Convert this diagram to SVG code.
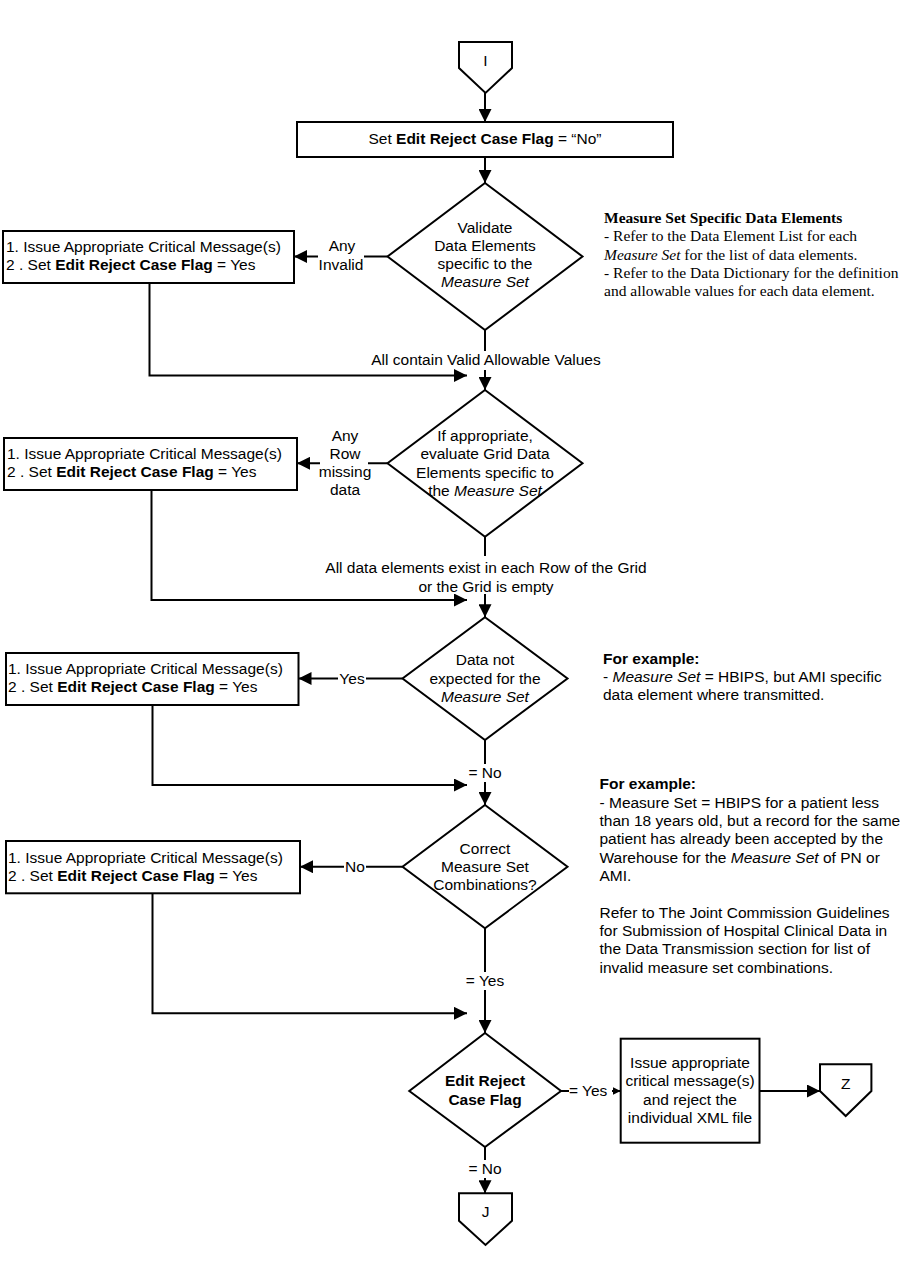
<svg xmlns="http://www.w3.org/2000/svg" width="900" height="1286" viewBox="0 0 900 1286">
<style>
.shape{fill:#fff;stroke:#000;stroke-width:2}
.ln{fill:none;stroke:#000;stroke-width:2}
.t{font-family:"Liberation Sans",Arial,sans-serif;font-size:15.5px;fill:#000}
.c{text-anchor:middle}
.b{font-weight:bold}
.i{font-style:italic}
.s{font-family:"Liberation Serif","Times New Roman",serif;font-size:15.5px;fill:#000}
.bg{fill:#fff;stroke:none}
</style>
<defs>
<marker id="ah" markerUnits="userSpaceOnUse" markerWidth="13" markerHeight="13" refX="13" refY="6.5" orient="auto">
<path d="M0,0 L13,6.5 L0,13 z" fill="#000"/>
</marker>
<marker id="ahs" markerUnits="userSpaceOnUse" markerWidth="8" markerHeight="8" refX="8" refY="4" orient="auto">
<path d="M0,0 L8,4 L0,8 z" fill="#000"/>
</marker>
</defs>
<rect width="900" height="1286" fill="#fff"/>

<g id="connectors">
<line class="ln" x1="485" y1="93" x2="485" y2="122" marker-end="url(#ah)"/>
<line class="ln" x1="485" y1="157" x2="485" y2="183" marker-end="url(#ah)"/>
<line class="ln" x1="387.5" y1="256.5" x2="294" y2="256.5" marker-end="url(#ah)"/>
<rect class="bg" x="318" y="238" width="46" height="36"/>
<text class="t c" x="342" y="251">Any</text>
<text class="t c" x="341" y="270">Invalid</text>
<line class="ln" x1="485" y1="330" x2="485" y2="390" marker-end="url(#ah)"/>
<rect class="bg" x="368" y="351" width="238" height="19"/>
<text class="t c" x="486" y="365">All contain Valid Allowable Values</text>
<polyline class="ln" points="149.5,283 149.5,375.5 467,375.5" marker-end="url(#ah)"/>

<line class="ln" x1="387.5" y1="463.3" x2="297" y2="463.3" marker-end="url(#ah)"/>
<rect class="bg" x="320" y="428" width="48" height="72"/>
<text class="t c" x="345" y="441">Any</text>
<text class="t c" x="345" y="459">Row</text>
<text class="t c" x="345" y="477">missing</text>
<text class="t c" x="345" y="495">data</text>
<line class="ln" x1="485" y1="536.7" x2="485" y2="617.3" marker-end="url(#ah)"/>
<rect class="bg" x="322" y="556" width="328" height="38"/>
<text class="t c" x="486" y="573">All data elements exist in each Row of the Grid</text>
<text class="t c" x="486" y="592">or the Grid is empty</text>
<polyline class="ln" points="151.5,490 151.5,600 467,600" marker-end="url(#ah)"/>

<line class="ln" x1="402.5" y1="678.5" x2="298.5" y2="678.5" marker-end="url(#ah)"/>
<rect class="bg" x="338" y="668" width="28" height="20"/>
<text class="t c" x="352" y="684">Yes</text>
<line class="ln" x1="485" y1="740" x2="485" y2="805" marker-end="url(#ah)"/>
<rect class="bg" x="465" y="764" width="40" height="18"/>
<text class="t c" x="485" y="778">= No</text>
<polyline class="ln" points="152.5,705 152.5,785 467,785" marker-end="url(#ah)"/>

<line class="ln" x1="402.5" y1="866.7" x2="300" y2="866.7" marker-end="url(#ah)"/>
<rect class="bg" x="344" y="856" width="22" height="20"/>
<text class="t c" x="355" y="872">No</text>
<line class="ln" x1="485" y1="928.3" x2="485" y2="1033" marker-end="url(#ah)"/>
<rect class="bg" x="462" y="972" width="46" height="18"/>
<text class="t c" x="485" y="986">= Yes</text>
<polyline class="ln" points="152.5,893.3 152.5,1013.3 467,1013.3" marker-end="url(#ah)"/>

<line class="ln" x1="561" y1="1091" x2="620.7" y2="1091" marker-end="url(#ahs)"/>
<rect class="bg" x="569" y="1080" width="43" height="20"/>
<text class="t" x="569" y="1096">= Yes</text>
<line class="ln" x1="759.5" y1="1091" x2="820" y2="1091" marker-end="url(#ah)"/>
<line class="ln" x1="485" y1="1147" x2="485" y2="1193.3" marker-end="url(#ah)"/>
<rect class="bg" x="465" y="1160" width="40" height="18"/>
<text class="t c" x="485" y="1174">= No</text>
</g>

<g id="conn-I">
<polygon class="shape" points="459,42 512,42 512,68 485.5,93 459,68"/>
<text class="t c" x="485.5" y="66">I</text>
</g>

<g id="box-set-flag">
<rect class="shape" x="297" y="122" width="376" height="35"/>
<text class="t c" x="485" y="144">Set <tspan class="b">Edit Reject Case Flag</tspan> = “No”</text>
</g>

<g id="dec-validate">
<polygon class="shape" points="485,183 582.5,256.5 485,330 387.5,256.5"/>
<text class="t c" x="485" y="233">Validate</text>
<text class="t c" x="485" y="251">Data Elements</text>
<text class="t c" x="485" y="269">specific to the</text>
<text class="t c i" x="485" y="287">Measure Set</text>
</g>

<g id="box-msg1">
<rect class="shape" x="3" y="231" width="291" height="52"/>
<text class="t" x="6" y="252">1. Issue Appropriate Critical Message(s)</text>
<text class="t" x="6" y="270">2 . Set <tspan class="b">Edit Reject Case Flag</tspan> = Yes</text>
</g>

<g id="note-measure-set">
<text class="s b" x="604" y="223">Measure Set Specific Data Elements</text>
<text class="s" x="604" y="241">- Refer to the Data Element List for each</text>
<text class="s" x="604" y="259.5"><tspan font-style="italic">Measure Set</tspan> for the list of data elements.</text>
<text class="s" x="604" y="278">- Refer to the Data Dictionary for the definition</text>
<text class="s" x="604" y="296">and allowable values for each data element.</text>
</g>

<g id="dec-grid">
<polygon class="shape" points="485,390 582.5,463.3 485,536.7 387.5,463.3"/>
<text class="t c" x="485" y="441">If appropriate,</text>
<text class="t c" x="485" y="459">evaluate Grid Data</text>
<text class="t c" x="485" y="477.7">Elements specific to</text>
<text class="t c" x="485" y="496">the <tspan class="i">Measure Set</tspan></text>
</g>

<g id="box-msg2">
<rect class="shape" x="4" y="438" width="293" height="52"/>
<text class="t" x="7" y="459">1. Issue Appropriate Critical Message(s)</text>
<text class="t" x="7" y="477">2 . Set <tspan class="b">Edit Reject Case Flag</tspan> = Yes</text>
</g>

<g id="dec-not-expected">
<polygon class="shape" points="485,617.3 567.5,678.5 485,740 402.5,678.5"/>
<text class="t c" x="485" y="665">Data not</text>
<text class="t c" x="485" y="683.5">expected for the</text>
<text class="t c i" x="485" y="702">Measure Set</text>
</g>

<g id="box-msg3">
<rect class="shape" x="6" y="653" width="292.5" height="52"/>
<text class="t" x="8" y="674">1. Issue Appropriate Critical Message(s)</text>
<text class="t" x="8" y="692">2 . Set <tspan class="b">Edit Reject Case Flag</tspan> = Yes</text>
</g>

<g id="note-example1">
<text class="t b" x="603" y="663.5">For example:</text>
<text class="t" x="603" y="682">- <tspan class="i">Measure Set</tspan> = HBIPS, but AMI specific</text>
<text class="t" x="603" y="700">data element where transmitted.</text>
</g>

<g id="note-example2">
<text class="t b" x="599.5" y="788.5">For example:</text>
<text class="t" x="599.5" y="808">- Measure Set = HBIPS for a patient less</text>
<text class="t" x="599.5" y="826">than 18 years old, but a record for the same</text>
<text class="t" x="599.5" y="844">patient has already been accepted by the</text>
<text class="t" x="599.5" y="862.5">Warehouse for the <tspan class="i">Measure Set</tspan> of PN or</text>
<text class="t" x="599.5" y="881">AMI.</text>
<text class="t" x="599.5" y="917.5">Refer to The Joint Commission Guidelines</text>
<text class="t" x="599.5" y="936">for Submission of Hospital Clinical Data in</text>
<text class="t" x="599.5" y="954">the Data Transmission section for list of</text>
<text class="t" x="599.5" y="972.5">invalid measure set combinations.</text>
</g>

<g id="dec-combinations">
<polygon class="shape" points="485,805 567.5,866.7 485,928.3 402.5,866.7"/>
<text class="t c" x="485" y="853.5">Correct</text>
<text class="t c" x="485" y="872">Measure Set</text>
<text class="t c" x="485" y="890">Combinations?</text>
</g>

<g id="box-msg4">
<rect class="shape" x="6" y="841" width="294" height="52.3"/>
<text class="t" x="8" y="862.5">1. Issue Appropriate Critical Message(s)</text>
<text class="t" x="8" y="881">2 . Set <tspan class="b">Edit Reject Case Flag</tspan> = Yes</text>
</g>

<g id="dec-edit-reject">
<polygon class="shape" points="485,1033 561,1091 485,1147 409.3,1091"/>
<text class="t c b" x="485" y="1086">Edit Reject</text>
<text class="t c b" x="485" y="1104.5">Case Flag</text>
</g>

<g id="box-reject">
<rect class="shape" x="620.7" y="1038.7" width="138.8" height="104"/>
<text class="t c" x="690" y="1068">Issue appropriate</text>
<text class="t c" x="690" y="1086">critical message(s)</text>
<text class="t c" x="690" y="1104.5">and reject the</text>
<text class="t c" x="690" y="1123">individual XML file</text>
</g>

<g id="conn-Z">
<polygon class="shape" points="820,1064.3 871.4,1064.3 871.4,1091 845.7,1116 820,1091"/>
<text class="t c" x="845.7" y="1088.5">Z</text>
</g>

<g id="conn-J">
<polygon class="shape" points="459,1193.3 512,1193.3 512,1220.7 485.5,1245 459,1220.7"/>
<text class="t c" x="485.5" y="1217">J</text>
</g>
</svg>
